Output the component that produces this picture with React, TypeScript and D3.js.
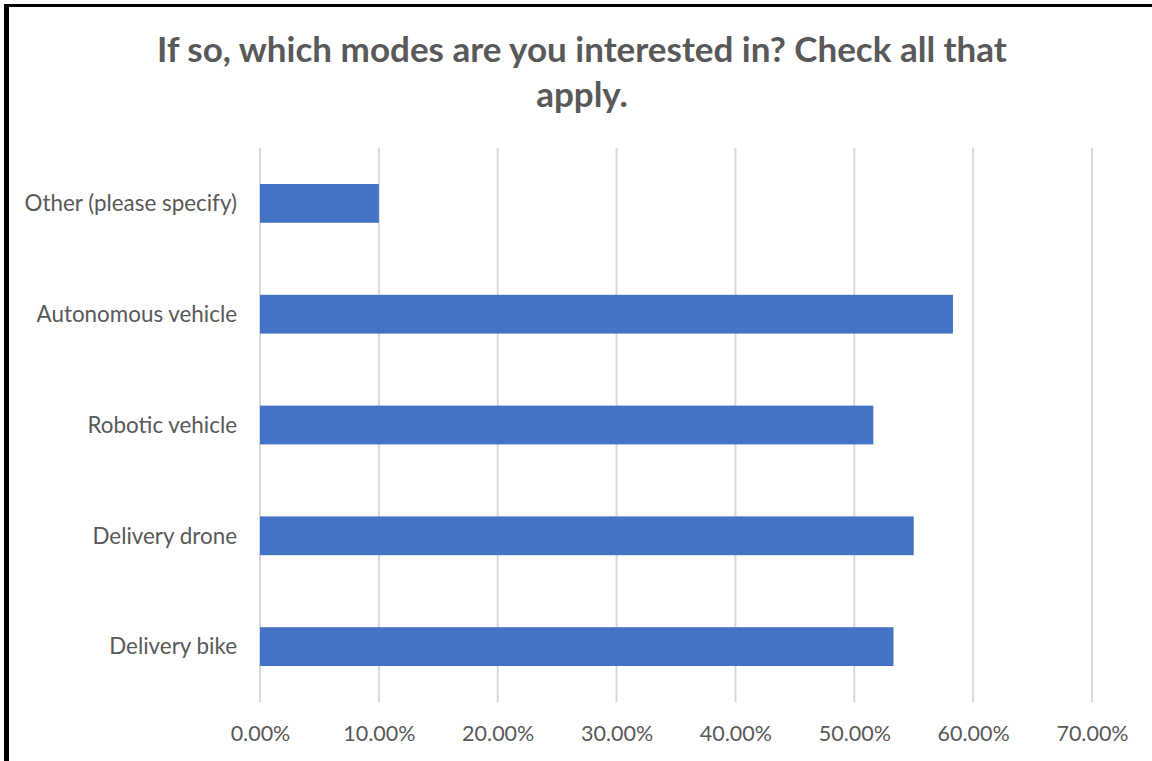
import * as d3 from "d3";
import React, { useEffect, useRef } from "react";

const categories = [
	"Other (please specify)",
	"Autonomous vehicle",
	"Robotic vehicle",
	"Delivery drone",
	"Delivery bike",
];
const shares = [0.1, 0.583, 0.516, 0.55, 0.533];
const xTicks = [0, 0.1, 0.2, 0.3, 0.4, 0.5, 0.6, 0.7];
const titleLines = ["If so, which modes are you interested in? Check all that", "apply."];

const App = (): JSX.Element => {
	const svgRef = useRef<SVGSVGElement>(null);

	useEffect(() => {
		const width = 1152,
			height = 761;
		const plot = { left: 260, right: 1092, top: 148, bottom: 702 };
		const font = "Lato, 'Open Sans', sans-serif";
		const textColor = "#595959";

		const svg = d3.select(svgRef.current);
		const root = svg.append("g");

		root.append("rect").attr("width", width).attr("height", height).attr("fill", "#fff");

		// frame lines (left + top)
		root.append("rect").attr("x", 4).attr("y", 4).attr("width", width - 4).attr("height", 3).attr("fill", "#000");
		root.append("rect").attr("x", 4).attr("y", 4).attr("width", 5).attr("height", height - 4).attr("fill", "#000");

		// title
		root.append("g")
			.selectAll("text")
			.data(titleLines)
			.join("text")
			.attr("x", 582)
			.attr("y", (d, i) => 62 + i * 45)
			.attr("text-anchor", "middle")
			.attr("font-family", font)
			.attr("font-weight", "bold")
			.attr("font-size", 35)
			.attr("fill", textColor)
			.text((d) => d);

		const x = d3.scaleLinear().domain([0, 0.7]).range([plot.left, plot.right]);
		const y = d3
			.scaleBand()
			.domain(categories)
			.range([plot.top, plot.bottom])
			.paddingInner(0.65)
			.paddingOuter(0.325);

		// gridlines
		root.append("g")
			.selectAll("line")
			.data(xTicks)
			.join("line")
			.attr("x1", (d) => x(d))
			.attr("x2", (d) => x(d))
			.attr("y1", plot.top)
			.attr("y2", plot.bottom)
			.attr("stroke", "#d9d9d9")
			.attr("stroke-width", 2);

		// bars
		root.append("g")
			.selectAll("rect")
			.data(categories)
			.join("rect")
			.attr("x", x(0))
			.attr("y", (d) => y(d)!)
			.attr("width", (d, i) => x(shares[i]) - x(0))
			.attr("height", y.bandwidth())
			.attr("fill", "#4472C4");

		// x axis
		const xAxis = root
			.append("g")
			.attr("transform", `translate(0, ${plot.bottom})`)
			.call(d3.axisBottom(x).tickValues(xTicks).tickFormat(d3.format(".2%")).tickSize(0).tickPadding(0));
		xAxis.select(".domain").remove();
		xAxis.selectAll("text")
			.attr("y", 39)
			.attr("dy", 0)
			.attr("font-family", font)
			.attr("font-size", 21.5)
			.attr("fill", textColor);

		// y axis
		const yAxis = root
			.append("g")
			.attr("transform", `translate(${plot.left}, 0)`)
			.call(d3.axisLeft(y).tickSize(0).tickPadding(23));
		yAxis.select(".domain").remove();
		yAxis.selectAll("text")
			.attr("dy", "0.35em")
			.attr("font-family", font)
			.attr("font-size", 22.4)
			.attr("fill", textColor);

		return () => {
			root.remove();
		};
	}, []);

	return (
		<svg
			ref={svgRef}
			width={1152}
			height={761}
			style={{ position: "absolute", left: 0, top: 0, display: "block" }}
		/>
	);
};

export default App;
